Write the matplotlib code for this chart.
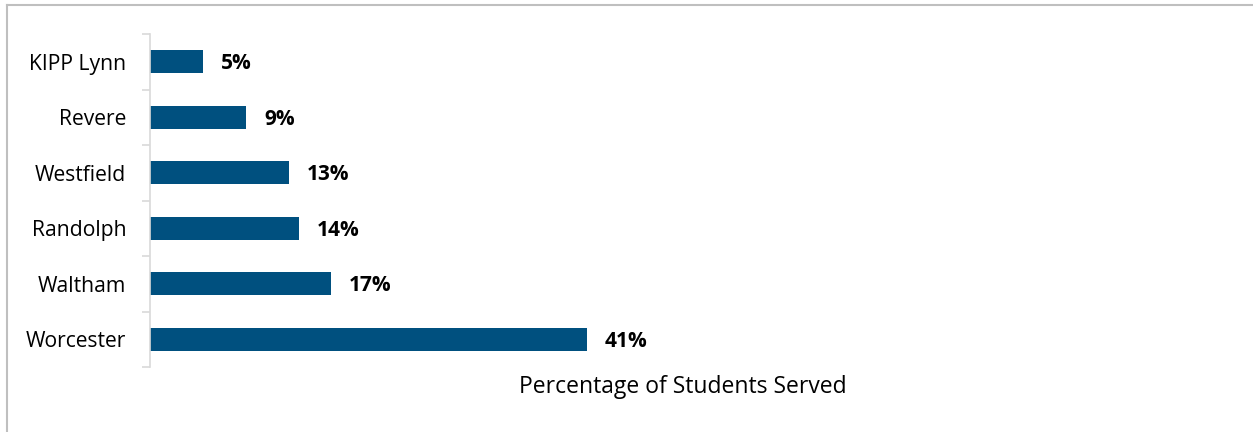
import matplotlib.pyplot as plt
from matplotlib.lines import Line2D
import numpy as np

plt.rcParams['font.family'] = ['Open Sans', 'DejaVu Sans']

schools = ['KIPP Lynn', 'Revere', 'Westfield', 'Randolph', 'Waltham', 'Worcester']
pct_served = [5, 9, 13, 14, 17, 41]

bar_color = '#00507F'
axis_gray = '#D9D9D9'

fig = plt.figure(figsize=(12.53, 4.32), dpi=100)
ax = fig.add_axes([150 / 1253, 1 - 367 / 432, 1066 / 1253, 333 / 432])

y = np.arange(len(schools))
ax.barh(y, pct_served, height=0.42, color=bar_color)
ax.set_ylim(len(schools) - 0.5, -0.5)
ax.set_xlim(0, 100)

for yi, v in zip(y, pct_served):
    ax.annotate(f'{v}%', xy=(v, yi), xytext=(18, -2), textcoords='offset pixels',
                va='center', ha='left', fontsize=15, fontweight='bold', color='black')

# category labels at bar centers, tick marks at the category boundaries
ax.set_yticks(y)
ax.set_yticklabels(schools, fontsize=15.2)
ax.set_yticks(np.arange(-0.5, len(schools)), minor=True)
ax.tick_params(axis='y', which='major', length=0, pad=17)
ax.tick_params(axis='y', which='minor', length=6, width=1.2, color=axis_gray)

ax.set_xticks([])
for side in ['top', 'right', 'bottom']:
    ax.spines[side].set_visible(False)
ax.spines['left'].set_color(axis_gray)
ax.spines['left'].set_linewidth(1.2)

ax.set_xlabel('Percentage of Students Served', fontsize=16.5, labelpad=6)

# chart frame (top and left edges)
fig.add_artist(Line2D([7 / 1253, 1], [1 - 5 / 432, 1 - 5 / 432], color='#BFBFBF', lw=1.5,
                      transform=fig.transFigure))
fig.add_artist(Line2D([7 / 1253, 7 / 1253], [0, 1 - 5 / 432], color='#BFBFBF', lw=1.5,
                      transform=fig.transFigure))

fig.savefig('out.png', dpi=100, facecolor='white')
